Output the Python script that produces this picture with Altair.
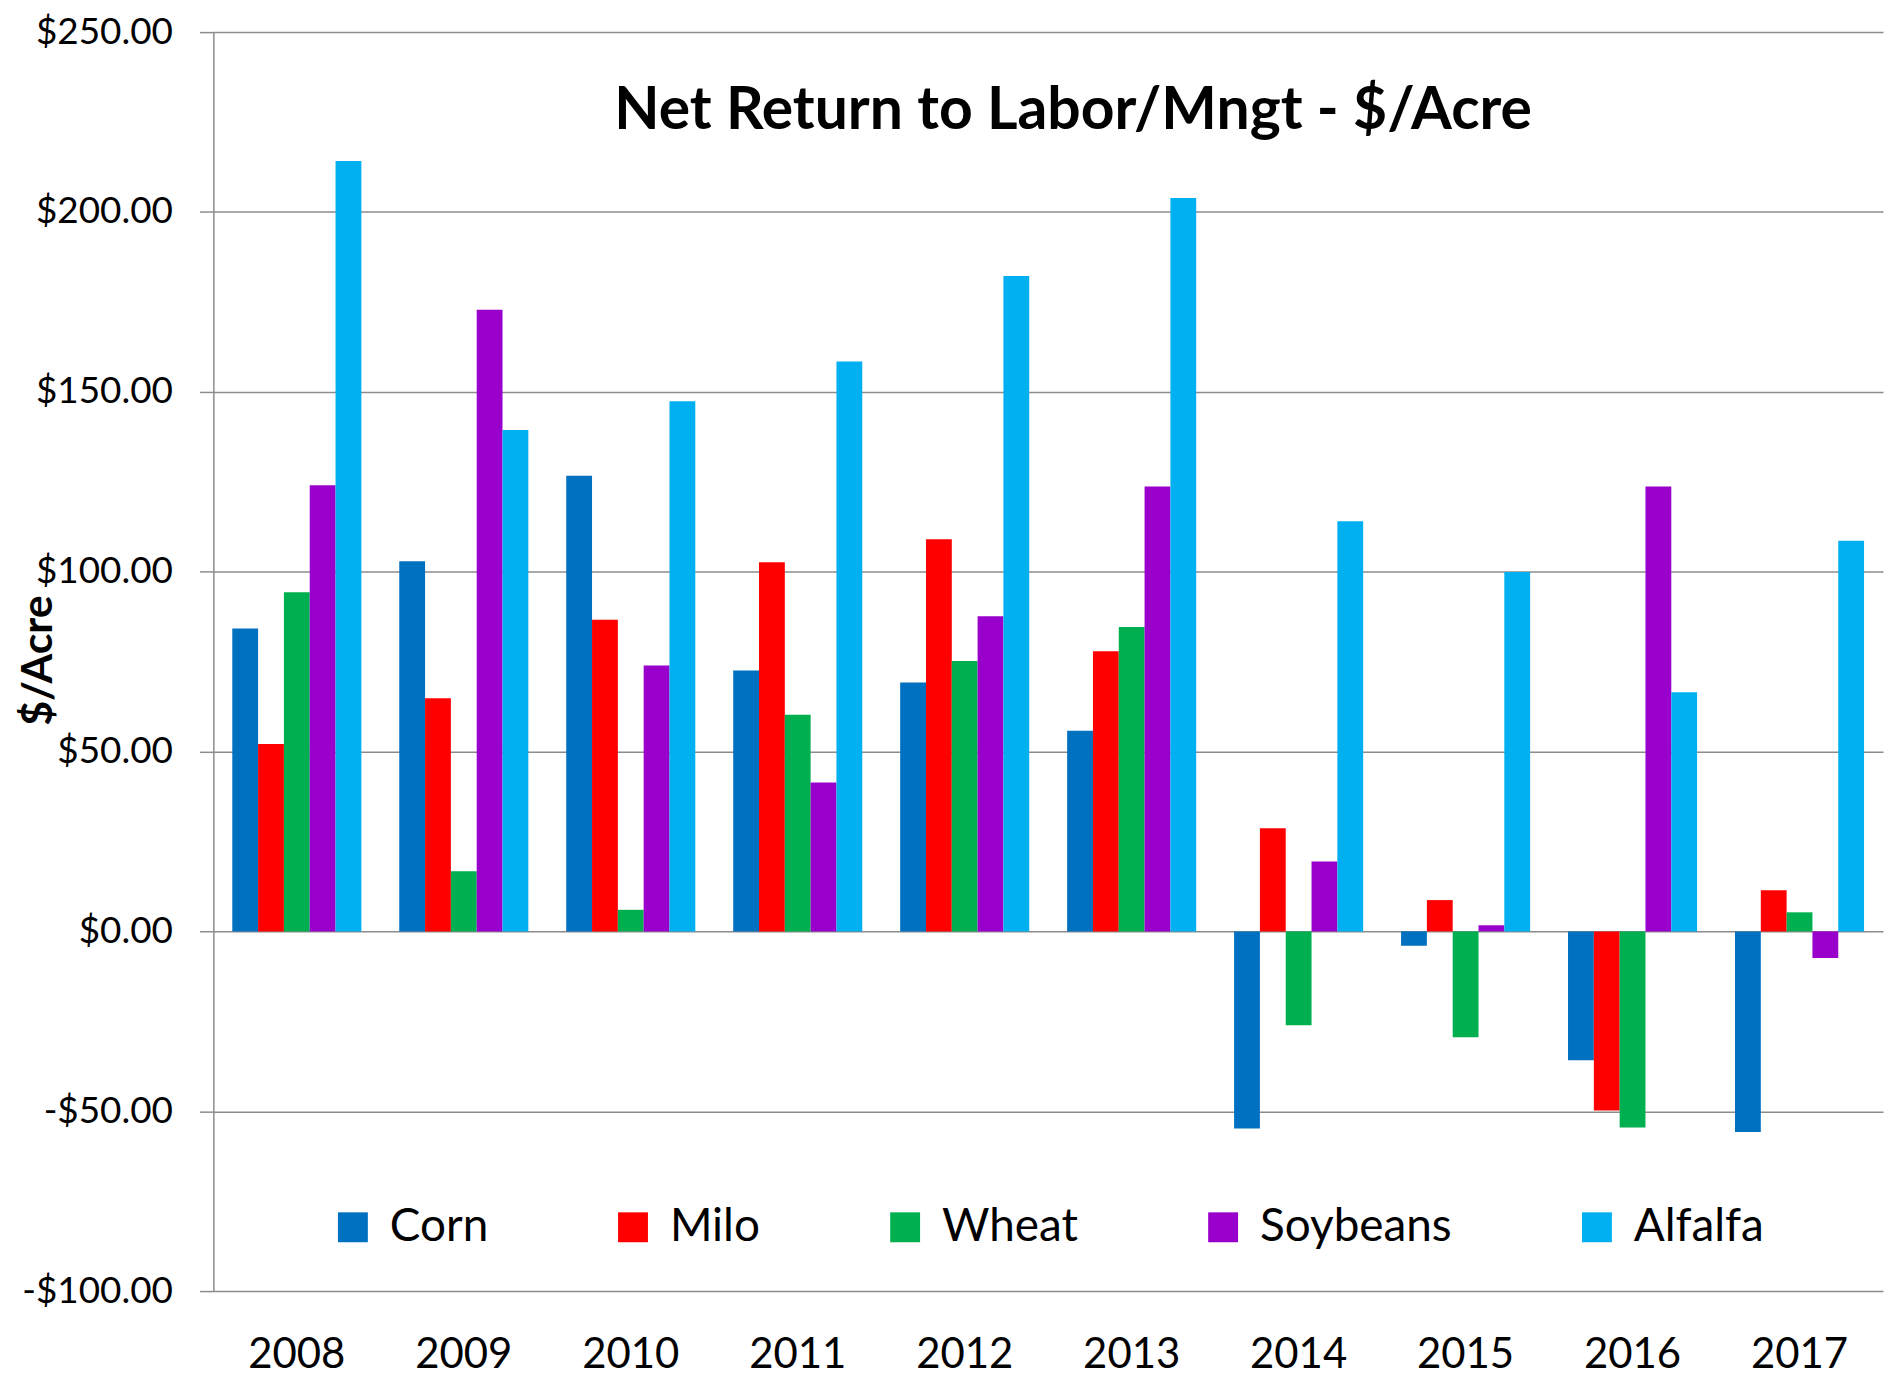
import altair as alt
import pandas as pd

years = ["2008", "2009", "2010", "2011", "2012", "2013", "2014", "2015", "2016", "2017"]
crops = ["Corn", "Milo", "Wheat", "Soybeans", "Alfalfa"]
colors = ["#0070C0", "#FF0000", "#00B050", "#9900CC", "#00B0F0"]

corn = [84.2, 102.9, 126.7, 72.5, 69.2, 55.8, -54.8, -4.0, -35.8, -55.8]
milo = [52.1, 64.8, 86.6, 102.6, 109.0, 77.9, 28.7, 8.7, -49.8, 11.4]
wheat = [94.3, 16.7, 6.0, 60.2, 75.2, 84.6, -26.1, -29.4, -54.5, 5.3]
soybeans = [124.0, 172.8, 73.9, 41.4, 87.6, 123.7, 19.4, 1.7, 123.7, -7.4]
alfalfa = [214.2, 139.4, 147.4, 158.4, 182.2, 203.9, 114.0, 99.9, 66.5, 108.6]

y_ticks = [-100, -50, 0, 50, 100, 150, 200, 250]

series = {"Corn": corn, "Milo": milo, "Wheat": wheat, "Soybeans": soybeans, "Alfalfa": alfalfa}
rows = []
for crop in crops:
    for yr, v in zip(years, series[crop]):
        rows.append({"Year": yr, "Crop": crop, "Value": v})
df = pd.DataFrame(rows)

FONT = "Lato"

chart = alt.Chart(df).mark_bar(strokeWidth=0).encode(
    x=alt.X("Year:N", sort=years,
            scale=alt.Scale(paddingInner=0.227, paddingOuter=0.1135),
            axis=alt.Axis(title=None, labelAngle=0, domain=False, ticks=False,
                          labelFontSize=42, labelFont=FONT, labelColor="black",
                          labelBaseline="middle", labelPadding=64)),
    xOffset=alt.XOffset("Crop:N", sort=crops),
    y=alt.Y("Value:Q",
            scale=alt.Scale(domain=[-100, 250], nice=False, zero=False),
            axis=alt.Axis(values=y_ticks, title="$/Acre",
                          labelExpr="datum.value < 0 ? '-$' + format(-datum.value, '.2f') : '$' + format(datum.value, '.2f')",
                          labelFontSize=37, labelFont=FONT, labelColor="black",
                          labelPadding=27, tickSize=14, tickColor="#8C8C8C", tickWidth=1.5,
                          domainColor="#8C8C8C", domainWidth=1.5,
                          gridColor="#8C8C8C", gridWidth=1.5,
                          titleFont=FONT, titleFontSize=43, titleFontWeight="bold", titleColor="black",
                          titleAngle=-90, titleAlign="center", titleBaseline="alphabetic",
                          titleX=-162, titleY=630)),
    color=alt.Color("Crop:N", sort=crops,
                    scale=alt.Scale(domain=crops, range=colors),
                    legend=alt.Legend(title=None, orient="none", legendX=117, legendY=1176,
                                      direction="horizontal", columns=5, columnPadding=122,
                                      symbolType="square", symbolSize=900, symbolStrokeWidth=0,
                                      labelFontSize=46, labelFont=FONT, labelColor="black",
                                      labelOffset=14, labelLimit=0, padding=0)),
).properties(
    width=1675,
    height=1263,
    autosize=alt.AutoSizeParams(type="none"),
    padding={"left": 206, "top": 22, "right": 4, "bottom": 84},
    title=alt.TitleParams("Net Return to Labor/Mngt - $/Acre", font=FONT, fontSize=59,
                          fontWeight="bold", color="black", anchor="middle", frame="group",
                          baseline="alphabetic", offset=0, dx=25, dy=175),
).configure_view(stroke=None).configure_axisX(grid=False)

chart.save("out.html", embed_options={"renderer": "svg", "actions": False})
